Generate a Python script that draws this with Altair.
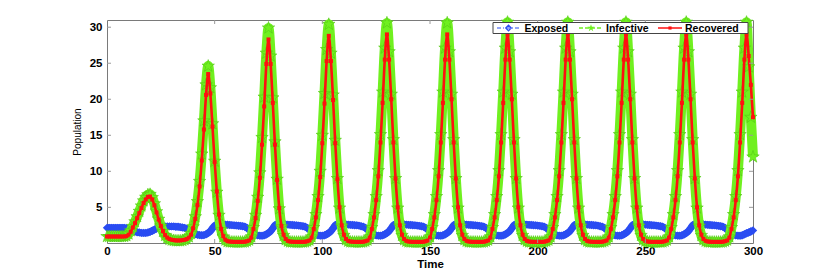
import altair as alt
import pandas as pd

# ---------------- data ----------------
time = list(range(0, 301))

exposed = [
    2.15, 2.15, 2.15, 2.15, 2.15, 2.15, 2.15, 2.15, 2.15, 2.1,
    2.0, 1.9, 1.75, 1.65, 1.55, 1.5, 1.45, 1.45, 1.45, 1.5,
    1.6, 1.75, 1.9, 2.05, 2.15, 2.25, 2.3, 2.35, 2.35, 2.35,
    2.35, 2.35, 2.3, 2.3, 2.25, 2.2, 2.15, 2.05, 1.9, 1.7,
    1.5, 1.3, 1.2, 1.15, 1.12, 1.15, 1.25, 1.45, 1.7, 2.1,
    2.45, 2.6, 2.65, 2.65, 2.63, 2.6, 2.58, 2.55, 2.53, 2.5,
    2.48, 2.45, 2.42, 2.38, 2.3, 2.15, 1.9, 1.65, 1.4, 1.2,
    1.1, 1.07, 1.07, 1.12, 1.25, 1.45, 1.7, 2.1, 2.5, 2.68,
    2.7, 2.68, 2.66, 2.63, 2.6, 2.57, 2.55, 2.52, 2.5, 2.47,
    2.43, 2.38, 2.3, 2.15, 1.9, 1.65, 1.4, 1.2, 1.1, 1.07,
    1.07, 1.12, 1.25, 1.45, 1.7, 2.1, 2.5, 2.68, 2.7, 2.68,
    2.66, 2.63, 2.6, 2.57, 2.55, 2.52, 2.5, 2.46, 2.38, 2.3,
    2.15, 1.9, 1.65, 1.4, 1.2, 1.1, 1.07, 1.07, 1.12, 1.25,
    1.45, 1.7, 2.1, 2.5, 2.68, 2.7, 2.68, 2.66, 2.63, 2.6,
    2.57, 2.55, 2.52, 2.5, 2.47, 2.43, 2.38, 2.3, 2.15, 1.9,
    1.65, 1.4, 1.2, 1.1, 1.07, 1.07, 1.12, 1.25, 1.45, 1.7,
    2.1, 2.5, 2.68, 2.7, 2.68, 2.66, 2.63, 2.6, 2.57, 2.55,
    2.52, 2.5, 2.47, 2.43, 2.38, 2.3, 2.15, 1.9, 1.65, 1.4,
    1.2, 1.1, 1.07, 1.07, 1.12, 1.25, 1.45, 1.7, 2.1, 2.5,
    2.68, 2.7, 2.68, 2.66, 2.63, 2.6, 2.57, 2.55, 2.52, 2.5,
    2.47, 2.43, 2.38, 2.3, 2.15, 1.9, 1.65, 1.4, 1.2, 1.1,
    1.07, 1.07, 1.12, 1.25, 1.45, 1.7, 2.1, 2.5, 2.68, 2.7,
    2.68, 2.66, 2.63, 2.6, 2.57, 2.55, 2.52, 2.5, 2.46, 2.38,
    2.3, 2.15, 1.9, 1.65, 1.4, 1.2, 1.1, 1.07, 1.07, 1.12,
    1.25, 1.45, 1.7, 2.1, 2.5, 2.68, 2.7, 2.68, 2.66, 2.63,
    2.6, 2.57, 2.55, 2.52, 2.5, 2.47, 2.43, 2.38, 2.3, 2.15,
    1.9, 1.65, 1.4, 1.2, 1.1, 1.07, 1.07, 1.12, 1.25, 1.45,
    1.7, 2.1, 2.5, 2.68, 2.7, 2.68, 2.66, 2.63, 2.6, 2.57,
    2.55, 2.52, 2.5, 2.47, 2.43, 2.38, 2.3, 2.15, 1.9, 1.65,
    1.4, 1.2, 1.1, 1.07, 1.07, 1.12, 1.25, 1.4, 1.5, 1.65,
    1.8,
]

infective = [
    0.95, 0.95, 0.95, 0.95, 0.95, 0.95, 0.95, 0.95, 0.97, 1.05,
    1.3, 1.75, 2.35, 3.0, 3.7, 4.45, 5.2, 5.9, 6.4, 6.75,
    6.8, 6.35, 5.5, 4.4, 3.35, 2.4, 1.65, 1.1, 0.75, 0.55,
    0.45, 0.4, 0.35, 0.35, 0.35, 0.4, 0.5, 0.65, 0.9, 1.35,
    2.3, 3.7, 5.8, 8.6, 12.4, 17.0, 22.0, 24.6, 21.6, 16.6,
    11.4, 7.1, 3.9, 1.9, 0.9, 0.45, 0.25, 0.2, 0.18, 0.17,
    0.17, 0.17, 0.17, 0.17, 0.2, 0.3, 0.45, 0.9, 2.2, 3.9,
    6.4, 9.8, 14.7, 20.3, 26.4, 29.9, 26.0, 20.2, 14.1, 8.9,
    4.8, 2.3, 1.1, 0.5, 0.3, 0.2, 0.18, 0.17, 0.17, 0.17,
    0.17, 0.17, 0.2, 0.3, 0.45, 0.9, 2.2, 4.0, 6.5, 10.0,
    15.0, 20.8, 26.9, 30.4, 26.4, 20.6, 14.3, 9.0, 4.9, 2.4,
    1.1, 0.5, 0.3, 0.2, 0.18, 0.17, 0.17, 0.17, 0.17, 0.2,
    0.3, 0.45, 0.9, 2.2, 4.0, 6.5, 10.1, 15.1, 21.0, 27.1,
    30.6, 26.6, 20.7, 14.4, 9.0, 4.9, 2.4, 1.1, 0.5, 0.3,
    0.2, 0.18, 0.17, 0.17, 0.17, 0.17, 0.17, 0.2, 0.3, 0.45,
    0.9, 2.2, 4.0, 6.5, 10.1, 15.1, 21.0, 27.1, 30.6, 26.6,
    20.7, 14.4, 9.0, 4.9, 2.4, 1.1, 0.5, 0.3, 0.2, 0.18,
    0.17, 0.17, 0.17, 0.17, 0.17, 0.2, 0.3, 0.45, 0.9, 2.2,
    4.0, 6.5, 10.1, 15.1, 21.0, 27.1, 30.7, 26.6, 20.7, 14.4,
    9.0, 4.9, 2.4, 1.1, 0.5, 0.3, 0.2, 0.18, 0.17, 0.17,
    0.17, 0.17, 0.17, 0.2, 0.3, 0.45, 0.9, 2.2, 4.0, 6.5,
    10.1, 15.1, 21.0, 27.1, 30.7, 26.6, 20.7, 14.4, 9.0, 4.9,
    2.4, 1.1, 0.5, 0.3, 0.2, 0.18, 0.17, 0.17, 0.17, 0.17,
    0.2, 0.3, 0.45, 0.9, 2.2, 4.0, 6.5, 10.1, 15.1, 21.0,
    27.1, 30.7, 26.6, 20.7, 14.4, 9.0, 4.9, 2.4, 1.1, 0.5,
    0.3, 0.2, 0.18, 0.17, 0.17, 0.17, 0.17, 0.17, 0.2, 0.3,
    0.45, 0.9, 2.2, 4.0, 6.5, 10.1, 15.1, 21.0, 27.1, 30.7,
    26.6, 20.7, 14.4, 9.0, 4.9, 2.4, 1.1, 0.5, 0.3, 0.2,
    0.18, 0.17, 0.17, 0.17, 0.17, 0.17, 0.2, 0.3, 0.45, 0.9,
    2.2, 4.0, 6.5, 10.1, 15.1, 21.0, 27.1, 30.7, 24.5, 17.5,
    12.0,
]

recovered = [
    0.95, 0.95, 0.95, 0.95, 0.95, 0.95, 0.95, 0.95, 0.96, 1.0,
    1.2, 1.6, 2.2, 2.8, 3.5, 4.2, 4.9, 5.6, 6.1, 6.45,
    6.5, 6.1, 5.3, 4.3, 3.3, 2.4, 1.7, 1.15, 0.8, 0.6,
    0.5, 0.45, 0.4, 0.4, 0.4, 0.45, 0.5, 0.6, 0.8, 1.2,
    2.1, 3.4, 5.3, 7.9, 11.5, 15.8, 20.6, 23.5, 20.8, 16.2,
    11.3, 7.2, 4.0, 2.0, 1.0, 0.5, 0.3, 0.25, 0.22, 0.2,
    0.2, 0.2, 0.2, 0.2, 0.22, 0.3, 0.4, 0.8, 2.0, 3.5,
    5.9, 9.1, 13.7, 19.0, 24.9, 28.3, 24.9, 19.5, 13.7, 8.8,
    4.9, 2.4, 1.2, 0.6, 0.35, 0.25, 0.22, 0.2, 0.2, 0.2,
    0.2, 0.2, 0.22, 0.3, 0.4, 0.8, 2.0, 3.6, 6.0, 9.2,
    13.9, 19.4, 25.3, 28.8, 25.3, 19.9, 13.9, 8.9, 5.0, 2.5,
    1.2, 0.6, 0.35, 0.25, 0.22, 0.2, 0.2, 0.2, 0.2, 0.22,
    0.3, 0.4, 0.8, 2.0, 3.6, 6.0, 9.3, 14.0, 19.5, 25.5,
    29.0, 25.5, 20.0, 14.0, 9.0, 5.0, 2.5, 1.2, 0.6, 0.35,
    0.25, 0.22, 0.2, 0.2, 0.2, 0.2, 0.2, 0.22, 0.3, 0.4,
    0.8, 2.0, 3.6, 6.0, 9.3, 14.0, 19.5, 25.5, 29.0, 25.5,
    20.0, 14.0, 9.0, 5.0, 2.5, 1.2, 0.6, 0.35, 0.25, 0.22,
    0.2, 0.2, 0.2, 0.2, 0.2, 0.22, 0.3, 0.4, 0.8, 2.0,
    3.6, 6.0, 9.3, 14.0, 19.5, 25.5, 29.0, 25.5, 20.0, 14.0,
    9.0, 5.0, 2.5, 1.2, 0.6, 0.35, 0.25, 0.22, 0.2, 0.2,
    0.2, 0.2, 0.2, 0.22, 0.3, 0.4, 0.8, 2.0, 3.6, 6.0,
    9.3, 14.0, 19.5, 25.5, 29.0, 25.5, 20.0, 14.0, 9.0, 5.0,
    2.5, 1.2, 0.6, 0.35, 0.25, 0.22, 0.2, 0.2, 0.2, 0.2,
    0.22, 0.3, 0.4, 0.8, 2.0, 3.6, 6.0, 9.3, 14.0, 19.5,
    25.5, 29.0, 25.5, 20.0, 14.0, 9.0, 5.0, 2.5, 1.2, 0.6,
    0.35, 0.25, 0.22, 0.2, 0.2, 0.2, 0.2, 0.2, 0.22, 0.3,
    0.4, 0.8, 2.0, 3.6, 6.0, 9.3, 14.0, 19.5, 25.5, 29.0,
    25.5, 20.0, 14.0, 9.0, 5.0, 2.5, 1.2, 0.6, 0.35, 0.25,
    0.22, 0.2, 0.2, 0.2, 0.2, 0.2, 0.22, 0.3, 0.4, 0.8,
    2.0, 3.6, 6.0, 9.3, 14.0, 19.5, 25.5, 29.0, 26.0, 22.0,
    17.5,
]

x_ticks = [0, 50, 100, 150, 200, 250, 300]
y_ticks = [5, 10, 15, 20, 25, 30]
series_names = ["Exposed", "Infective", "Recovered"]

# ---------------- styling ----------------
W, H = 646, 223
BLUE = "#2a4cf2"
GREEN = "#70f020"
RED = "#ff1010"
FONT = "Liberation Sans"
STAR = ("M0,-1L0.2245,-0.309L0.9511,-0.309L0.3633,0.118L0.5878,0.809L0,0.382"
        "L-0.5878,0.809L-0.3633,0.118L-0.9511,-0.309L-0.2245,-0.309Z")

df = pd.DataFrame({"t": time, "E": exposed, "I": infective, "R": recovered})

xs = alt.Scale(domain=[0, 300], nice=False, zero=False)
ys = alt.Scale(domain=[0.05, 31], nice=False, zero=False)
xax = alt.Axis(values=x_ticks, labelFont=FONT, labelFontSize=11.5, labelFontWeight="bold",
               labelColor="black", domain=False, ticks=False, grid=False, labelPadding=2,
               labelFlush=False, labelOverlap=False, title="Time", titleFont=FONT,
               titleFontSize=11.5, titleFontWeight="bold", titleColor="black", titlePadding=2)
yax = alt.Axis(values=y_ticks, labelFont=FONT, labelFontSize=11.5, labelFontWeight="bold",
               labelColor="black", domain=False, ticks=False, grid=False, labelPadding=5,
               labelOverlap=False, title="Population", titleFont=FONT, titleFontSize=10,
               titleFontWeight="normal", titleColor="black", titlePadding=7)

X = alt.X("t:Q", scale=xs, axis=xax)
base = alt.Chart(df)

e_line = base.mark_line(color=BLUE, strokeWidth=7, interpolate="monotone").encode(
    x=X, y=alt.Y("E:Q", scale=ys, axis=yax))
e_pts = base.mark_point(shape="diamond", filled=True, size=70, color=BLUE, opacity=1).encode(
    x=X, y=alt.Y("E:Q", scale=ys, axis=yax))
i_line = base.mark_line(color=GREEN, strokeWidth=10, interpolate="monotone").encode(
    x=X, y=alt.Y("I:Q", scale=ys, axis=yax))
i_pts = base.mark_point(shape=STAR, filled=True, size=170, color=GREEN, opacity=1,
                        stroke="#52c814", strokeWidth=0.6).encode(
    x=X, y=alt.Y("I:Q", scale=ys, axis=yax))
r_line = base.mark_line(color=RED, strokeWidth=2.6, interpolate="monotone").encode(
    x=X, y=alt.Y("R:Q", scale=ys, axis=yax))
r_pts = base.mark_square(size=16, color=RED, opacity=1).encode(
    x=X, y=alt.Y("R:Q", scale=ys, axis=yax))

# inward tick marks on all four sides
xt = pd.DataFrame({"t": x_ticks[1:-1]})
yt = pd.DataFrame({"v": y_ticks})
TICK = "#9a9a9a"
tb = alt.Chart(xt).mark_rule(color=TICK, strokeWidth=1).encode(
    x=alt.X("t:Q", scale=xs, axis=xax), y=alt.value(H), y2=alt.value(H - 4))
tt = alt.Chart(xt).mark_rule(color=TICK, strokeWidth=1).encode(
    x=alt.X("t:Q", scale=xs, axis=xax), y=alt.value(0), y2=alt.value(4))
tl = alt.Chart(yt).mark_rule(color=TICK, strokeWidth=1).encode(
    y=alt.Y("v:Q", scale=ys, axis=yax), x=alt.value(0), x2=alt.value(4))
tr = alt.Chart(yt).mark_rule(color=TICK, strokeWidth=1).encode(
    y=alt.Y("v:Q", scale=ys, axis=yax), x=alt.value(W), x2=alt.value(W - 4))

# legend box
one = pd.DataFrame({"a": [0]})
LY = 8
leg_box = alt.Chart(one).mark_rect(fill="white", stroke="#444", strokeWidth=1).encode(
    x=alt.value(386), x2=alt.value(641), y=alt.value(2.5), y2=alt.value(13.5))
leg_e_line = alt.Chart(one).mark_rule(color=BLUE, strokeWidth=1.2, strokeDash=[4, 2, 1, 2]).encode(
    x=alt.value(390), x2=alt.value(413), y=alt.value(LY))
leg_e_pt = alt.Chart(one).mark_point(shape="diamond", filled=False, size=30, color=BLUE,
                                     strokeWidth=1.3, opacity=1).encode(
    x=alt.value(401.5), y=alt.value(LY))
leg_i_line = alt.Chart(one).mark_rule(color=GREEN, strokeWidth=1.5, strokeDash=[4, 2]).encode(
    x=alt.value(472), x2=alt.value(496), y=alt.value(LY))
leg_i_pt = alt.Chart(one).mark_point(shape=STAR, filled=True, size=60, color=GREEN, opacity=1).encode(
    x=alt.value(484), y=alt.value(LY))
leg_r_line = alt.Chart(one).mark_rule(color=RED, strokeWidth=1.5).encode(
    x=alt.value(551), x2=alt.value(575), y=alt.value(LY))
leg_r_pt = alt.Chart(one).mark_square(size=10, color=RED, opacity=1).encode(
    x=alt.value(563), y=alt.value(LY))

leg_txt = alt.Chart(pd.DataFrame({"name": series_names, "px": [417.5, 499, 578]})).mark_text(
    align="left", baseline="middle", font=FONT, fontSize=10.5, fontWeight="bold", color="black").encode(
    x=alt.X("px:Q", scale=None), y=alt.value(LY + 0.5), text="name:N")

chart = alt.layer(
    e_line, e_pts, i_line, i_pts, r_line, r_pts,
    tb, tt, tl, tr,
    leg_box, leg_e_line, leg_e_pt, leg_i_line, leg_i_pt, leg_r_line, leg_r_pt, leg_txt,
).properties(
    width=W, height=H,
    autosize=alt.AutoSizeParams(type="none"),
    padding={"left": 99, "top": 12, "right": 40, "bottom": 30},
    background="white",
).configure_view(stroke="#7a7a7a", strokeWidth=1)

chart.save("out.html", embed_options={"renderer": "svg", "actions": False})
